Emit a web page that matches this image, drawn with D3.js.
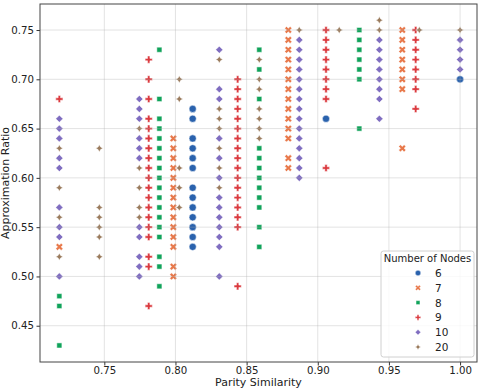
<!DOCTYPE html>
<html>
<head>
<meta charset="utf-8">
<script src="https://cdn.jsdelivr.net/npm/d3@7"></script>
<style>
  body { margin: 0; background: #fff; }
  text { font-family: "DejaVu Sans", sans-serif; }
</style>
</head>
<body>
<div id="chart"></div>
<script>
// Parity similarity vs approximation ratio, one series per node count
const nodeLabels = ["6", "7", "8", "9", "10", "20"];

// each entry: [parity similarity, [approximation ratios at that parity]]
const nodes6 = [
  [0.8121, [0.67, 0.66, 0.64, 0.63, 0.62, 0.61, 0.59, 0.58, 0.57, 0.56, 0.55, 0.54, 0.53]],
  [0.9058, [0.66]],
  [1.0, [0.70]]
];
const nodes7 = [
  [0.7184, [0.53]],
  [0.7985, [0.64, 0.63, 0.62, 0.61, 0.60, 0.59, 0.58, 0.57, 0.56, 0.55, 0.54, 0.53, 0.51, 0.50]],
  [0.8793, [0.75, 0.74, 0.73, 0.72, 0.71, 0.70, 0.69, 0.68, 0.67, 0.66, 0.65, 0.64, 0.62, 0.61]],
  [0.9594, [0.75, 0.74, 0.73, 0.72, 0.71, 0.70, 0.69, 0.63]]
];
const nodes8 = [
  [0.7184, [0.48, 0.47, 0.43]],
  [0.7887, [0.73, 0.68, 0.66, 0.65, 0.64, 0.63, 0.62, 0.61, 0.60, 0.59, 0.58, 0.57, 0.56, 0.55, 0.54, 0.52, 0.51, 0.49]],
  [0.8589, [0.73, 0.71, 0.68, 0.63, 0.62, 0.61, 0.60, 0.59, 0.58, 0.57, 0.55, 0.53]],
  [0.9292, [0.75, 0.74, 0.73, 0.72, 0.71, 0.70, 0.65]]
];
const nodes9 = [
  [0.7184, [0.68]],
  [0.7812, [0.72, 0.70, 0.68, 0.66, 0.65, 0.64, 0.63, 0.62, 0.61, 0.60, 0.59, 0.58, 0.57, 0.56, 0.55, 0.54, 0.52, 0.51, 0.47]],
  [0.8437, [0.70, 0.69, 0.68, 0.67, 0.66, 0.65, 0.64, 0.63, 0.62, 0.61, 0.60, 0.59, 0.58, 0.57, 0.56, 0.55, 0.49]],
  [0.9058, [0.75, 0.74, 0.73, 0.72, 0.71, 0.70, 0.69, 0.68, 0.61]],
  [0.9688, [0.75, 0.74, 0.73, 0.72, 0.71, 0.70, 0.69, 0.67]]
];
const nodes10 = [
  [0.7184, [0.66, 0.65, 0.64, 0.62, 0.61, 0.57, 0.55, 0.54, 0.50]],
  [0.7746, [0.68, 0.67, 0.66, 0.64, 0.63, 0.62, 0.55, 0.54, 0.52, 0.51, 0.50]],
  [0.8308, [0.73, 0.69, 0.68, 0.64, 0.62, 0.60, 0.58, 0.57, 0.56, 0.55, 0.54, 0.53, 0.50]],
  [0.8870, [0.74, 0.73, 0.72, 0.71, 0.70, 0.69, 0.68, 0.67, 0.66, 0.65, 0.64, 0.63, 0.62, 0.61, 0.60]],
  [0.9433, [0.74, 0.73, 0.72, 0.71, 0.70, 0.69, 0.68, 0.66]],
  [1.0, [0.74, 0.73, 0.72, 0.71]]
];
const nodes20 = [
  [0.7184, [0.63, 0.59, 0.56, 0.52]],
  [0.7465, [0.63, 0.57, 0.56, 0.55, 0.54, 0.52]],
  [0.7746, [0.65, 0.61, 0.59, 0.57, 0.56]],
  [0.8027, [0.70, 0.68, 0.61, 0.59, 0.57]],
  [0.8308, [0.72, 0.67, 0.66, 0.65, 0.63, 0.61, 0.59]],
  [0.8589, [0.72, 0.70, 0.69, 0.67, 0.66, 0.65, 0.64]],
  [0.8870, [0.75]],
  [0.9151, [0.75]],
  [0.9433, [0.76, 0.75]],
  [0.9714, [0.75]],
  [1.0, [0.75]]
];

const xTicks = [0.75, 0.80, 0.85, 0.90, 0.95, 1.00];
const yTicks = [0.45, 0.50, 0.55, 0.60, 0.65, 0.70, 0.75];

const seriesData = [nodes6, nodes7, nodes8, nodes9, nodes10, nodes20];
const colors = ["#2a62ad", "#e8784a", "#10a35a", "#db3a3f", "#7f6dc0", "#9a7b5d"];
const shapes = ["circle", "x", "square", "plus", "diamond", "star"];

const W = 484, H = 389;
const margin = { top: 4, right: 7, bottom: 27, left: 40 };
const width = W - margin.left - margin.right,
  height = H - margin.top - margin.bottom;

const svg = d3.select("#chart").append("svg")
  .attr("width", W).attr("height", H);
const g = svg.append("g").attr("transform", `translate(${margin.left},${margin.top})`);

const x = d3.scaleLinear().domain([0.7048, 1.0119]).range([0, width]);
const y = d3.scaleLinear().domain([0.4132, 0.7764]).range([height, 0]);

// matplotlib-like marker paths
function markerPath(kind, ms) {
  const h = ms / 2;
  const poly = (pts, k) => "M" + pts.map(p => `${p[0] * k},${p[1] * k}`).join("L") + "Z";
  switch (kind) {
    case "circle":
      return `M${h},0A${h},${h} 0 1,1 ${-h},0A${h},${h} 0 1,1 ${h},0Z`;
    case "x":
      return poly([[-1, -2], [0, -1], [1, -2], [2, -1], [1, 0], [2, 1], [1, 2], [0, 1], [-1, 2], [-2, 1], [-1, 0], [-2, -1]], h / 2);
    case "square": {
      const s = h * 0.7071;
      return `M${-s},${-s}L${s},${-s}L${s},${s}L${-s},${s}Z`;
    }
    case "plus":
      return poly([[-1, -3], [1, -3], [1, -1], [3, -1], [3, 1], [1, 1], [1, 3], [-1, 3], [-1, 1], [-3, 1], [-3, -1], [-1, -1]], h / 3);
    case "diamond":
      return poly([[0, -1], [1, 0], [0, 1], [-1, 0]], h);
    case "star": {
      const pts = [];
      for (let i = 0; i < 8; i++) {
        const a = -Math.PI / 2 + i * Math.PI / 4;
        const r = i % 2 === 0 ? 1 : 0.5;
        pts.push([r * Math.cos(a), r * Math.sin(a)]);
      }
      return poly(pts, h);
    }
  }
}

// points (drawn below grid, like matplotlib collections)
seriesData.forEach((series, i) => {
  const pts = series.flatMap(([px, ys]) => ys.map(v => ({ px, v })));
  g.append("g").selectAll("path")
    .data(pts)
    .enter().append("path")
    .attr("transform", d => `translate(${x(d.px)},${y(d.v)})`)
    .attr("d", markerPath(shapes[i], 7.2))
    .attr("fill", colors[i])
    .attr("stroke", "white")
    .attr("stroke-width", 0.5);
});

// grid on top of points
const grid = g.append("g").attr("stroke", "#b0b0b0").attr("stroke-opacity", 0.35).attr("stroke-width", 1);
grid.selectAll(".gx").data(xTicks).enter().append("line")
  .attr("x1", d => x(d)).attr("x2", d => x(d)).attr("y1", 0).attr("y2", height);
grid.selectAll(".gy").data(yTicks).enter().append("line")
  .attr("y1", d => y(d)).attr("y2", d => y(d)).attr("x1", 0).attr("x2", width);

// axes
const xAxis = g.append("g").attr("transform", `translate(0,${height})`)
  .call(d3.axisBottom(x).tickValues(xTicks).tickFormat(d3.format(".2f")).tickSize(3.5).tickPadding(1.5));
const yAxis = g.append("g")
  .call(d3.axisLeft(y).tickValues(yTicks).tickFormat(d3.format(".2f")).tickSize(3.5).tickPadding(2.5));
[xAxis, yAxis].forEach(a => {
  a.select(".domain").remove();
  a.selectAll("text").attr("font-size", 10.2).attr("fill", "#222").attr("font-family", "DejaVu Sans");
  a.selectAll("line").attr("stroke", "#333");
});

// frame
g.append("rect").attr("width", width).attr("height", height)
  .attr("fill", "none").attr("stroke", "#444").attr("stroke-width", 1);

// axis titles
svg.append("text").attr("x", margin.left + width / 2).attr("y", 385.5)
  .attr("text-anchor", "middle").attr("font-size", 11).attr("fill", "#222")
  .text("Parity Similarity");
svg.append("text").attr("transform", `translate(9,${margin.top + height / 2}) rotate(-90)`)
  .attr("text-anchor", "middle").attr("font-size", 11).attr("fill", "#222")
  .text("Approximation Ratio");

// legend
const lg = svg.append("g").attr("transform", "translate(381,251)");
lg.append("rect").attr("width", 93).attr("height", 106).attr("rx", 2.5)
  .attr("fill", "white").attr("fill-opacity", 0.8).attr("stroke", "#d0d0d0");
lg.append("text").attr("x", 46.5).attr("y", 11).attr("text-anchor", "middle")
  .attr("font-size", 10).attr("fill", "#222").text("Number of Nodes");
nodeLabels.forEach((lab, i) => {
  const row = lg.append("g").attr("transform", `translate(0,${22 + i * 14.8})`);
  row.append("path").attr("transform", "translate(37,0)")
    .attr("d", markerPath(shapes[i], 5.5)).attr("fill", colors[i])
    .attr("stroke", "white").attr("stroke-width", 0.4);
  row.append("text").attr("x", 54).attr("y", 4).attr("font-size", 10.5)
    .attr("fill", "#222").text(lab);
});
</script>
</body>
</html>
